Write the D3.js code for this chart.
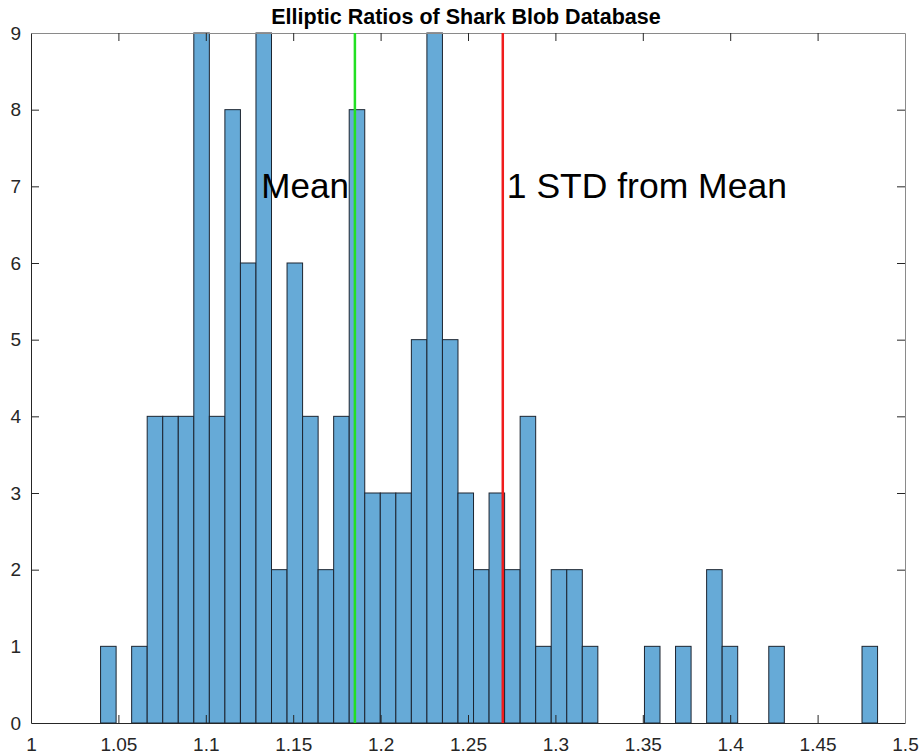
<!DOCTYPE html>
<html>
<head>
<meta charset="utf-8">
<script src="https://cdn.jsdelivr.net/npm/d3@7"></script>
<style>
  html, body { margin: 0; padding: 0; background: #fff; }
  svg { display: block; font-family: "Liberation Sans", Arial, Helvetica, sans-serif; }
</style>
</head>
<body>
<svg id="chart" width="921" height="756"></svg>
<script>
// ---- data ----
const titleText = "Elliptic Ratios of Shark Blob Database";
const binStart = 1.0398;
const binWidth = 0.00889;
const counts = [1, 0, 1, 4, 4, 4, 9, 4, 8, 6,
                9, 2, 6, 4, 2, 4, 8, 3, 3, 3,
                5, 9, 5, 3, 2, 3, 2, 4, 1, 2,
                2, 1, 0, 0, 0, 1, 0, 1, 0, 2,
                1, 0, 0, 1, 0, 0, 0, 0, 0, 1];
const xTicks = [1, 1.05, 1.1, 1.15, 1.2, 1.25, 1.3, 1.35, 1.4, 1.45, 1.5];
const xTickLabels = ["1", "1.05", "1.1", "1.15", "1.2", "1.25", "1.3", "1.35", "1.4", "1.45", "1.5"];
const yTicks = [0, 1, 2, 3, 4, 5, 6, 7, 8, 9];
const meanValue = 1.1853;
const stdLineValue = 1.2699;
const meanLabel = "Mean";
const stdLabel = "1 STD from Mean";
const labelY = 7;

(function () {
  // ---- layout ----
  const svg = d3.select("#chart");
  const L = 31, R = 905, T = 33, B = 723;
  const x = d3.scaleLinear().domain([1, 1.5]).range([L, R]);
  const y = d3.scaleLinear().domain([0, 9]).range([B, T]);

  const bins = counts.map((c, i) => ({ x0: binStart + i * binWidth, x1: binStart + (i + 1) * binWidth, c }));

  // bars
  svg.append("g").selectAll("rect")
    .data(bins.filter(d => d.c > 0))
    .join("rect")
    .attr("x", d => x(d.x0))
    .attr("y", d => y(d.c))
    .attr("width", d => x(d.x1) - x(d.x0))
    .attr("height", d => y(0) - y(d.c))
    .attr("fill", "#66aad7")
    .attr("stroke", "#1c2430")
    .attr("stroke-width", 1);

  // axes (inside ticks)
  const tickLen = 8;
  const axisColor = "#262626";
  const axB = d3.axisBottom(x).tickValues(xTicks).tickFormat((d, i) => xTickLabels[i]).tickSizeInner(-tickLen).tickSizeOuter(0).tickPadding(15);
  const axT = d3.axisTop(x).tickValues(xTicks).tickFormat("").tickSizeInner(-tickLen).tickSizeOuter(0);
  const axL = d3.axisLeft(y).tickValues(yTicks).tickFormat(d3.format("d")).tickSizeInner(-tickLen).tickSizeOuter(0).tickPadding(10);
  const axR = d3.axisRight(y).tickValues(yTicks).tickFormat("").tickSizeInner(-tickLen).tickSizeOuter(0);

  function style(g, color) {
    g.selectAll(".domain").attr("stroke", color).attr("stroke-width", 1);
    g.selectAll(".tick line").attr("stroke", axisColor).attr("stroke-width", 1);
    g.selectAll(".tick text").attr("fill", "#262626").attr("font-size", 19).attr("font-family", "Liberation Sans, Arial, sans-serif");
  }
  svg.append("g").attr("transform", `translate(0,${B})`).call(axB).call(g => style(g, axisColor));
  svg.append("g").attr("transform", `translate(0,${T})`).call(axT).call(g => style(g, "#8a8a8a"));
  svg.append("g").attr("transform", `translate(${L},0)`).call(axL).call(g => style(g, axisColor));
  svg.append("g").attr("transform", `translate(${R},0)`).call(axR).call(g => style(g, "#8a8a8a"));

  // remove tick marks that coincide with the box
  svg.selectAll(".tick").filter(d => d === 0 || d === 9 || d === 1 || d === 1.5).select("line").remove();

  // vertical lines
  svg.append("line")
    .attr("x1", x(meanValue)).attr("x2", x(meanValue))
    .attr("y1", y(0)).attr("y2", y(9))
    .attr("stroke", "#22e022").attr("stroke-width", 2.5);
  svg.append("line")
    .attr("x1", x(stdLineValue)).attr("x2", x(stdLineValue))
    .attr("y1", y(0)).attr("y2", y(9))
    .attr("stroke", "#f01c1c").attr("stroke-width", 2.5);

  // annotations
  svg.append("text")
    .attr("x", x(meanValue) - 6).attr("y", y(labelY) + 12)
    .attr("text-anchor", "end")
    .attr("font-size", 35).attr("fill", "#000")
    .text(meanLabel);
  svg.append("text")
    .attr("x", x(stdLineValue) + 4).attr("y", y(labelY) + 12)
    .attr("text-anchor", "start")
    .attr("font-size", 35.5).attr("fill", "#000")
    .text(stdLabel);

  // title
  svg.append("text")
    .attr("x", (L + R) / 2 - 2).attr("y", 24)
    .attr("text-anchor", "middle")
    .attr("font-size", 21.5).attr("font-weight", "bold").attr("fill", "#000")
    .text(titleText);
})();
</script>
</body>
</html>
